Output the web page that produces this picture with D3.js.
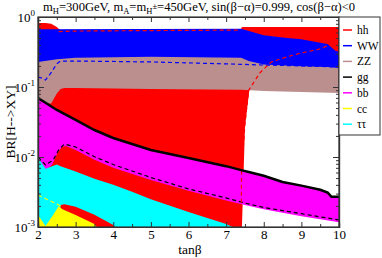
<!DOCTYPE html>
<html>
<head>
<meta charset="utf-8">
<script src="https://cdn.jsdelivr.net/npm/d3@7"></script>
<style>
  body { margin: 0; background: #fff; }
  text { font-family: "Liberation Serif", "Times New Roman", serif; }
</style>
</head>
<body>
<div id="chart"></div>
<script>
// channels, legend order
var channels = ["hh", "WW", "ZZ", "gg", "bb", "cc", "ττ"];
var colors   = ["#ff0000", "#0000ff", "#bc8f8f", "#000000", "#ff00ff", "#ffff00", "#00ffff"];

var xTicks = [2, 3, 4, 5, 6, 7, 8, 9, 10];
var yTicks = [1e-3, 1e-2, 1e-1, 1];
var yExps  = ["-3", "-2", "-1", "0"];

// band edges, [tanβ, BR]
var hhMax = [[2,0.82],[2.2,0.82],[2.35,0.8],[2.5,0.72],[2.6,0.64],[7.38,0.64],[7.42,0.72],[10,0.72]];
var hhMin = [[2,5e-5],[7.41,5e-5],[7.42,0.001],[7.5,0.026],[7.61,0.085],[7.7,0.15],[10,0.25]];

var zzMax = [[2,0.3],[10,0.3]];
var zzMin = [[2,0.061],[2.2,0.058],[2.35,0.058],[2.5,0.081],[2.6,0.094],[2.7,0.097],[3,0.097],[5,0.094],[7.4,0.091],[8,0.088],[10,0.082]];

var wwMax = [[2,0.67],[7.4,0.68],[8,0.55],[8.5,0.51],[9,0.48],[9.5,0.43],[9.7,0.41],[9.9,0.33],[10,0.32]];
var wwMin = [[2,0.228],[2.5,0.25],[3,0.262],[5,0.27],[7.4,0.262],[7.6,0.235],[8,0.21],[9,0.198],[9.7,0.193],[10,0.187]];

var ggLine = [[2,0.0697],[2.2,0.0595],[2.5,0.047],[3,0.0338],[3.5,0.0243],[4,0.0187],[5,0.0126],[6,0.0097],[7,0.0074],[7.4,0.0065],[7.6,0.0061],[8,0.0054],[8.5,0.0044],[9,0.0039],[9.5,0.0034],[9.7,0.0031],[9.8,0.0027],[10,0.0027]];

var bbMin = [[2,0.0091],[2.2,0.0065],[2.37,0.0077],[2.53,0.0118],[2.64,0.0139],[2.74,0.0144],[3,0.0126],[3.5,0.0091],[4,0.007],[5,0.0047],[6,0.0033],[7,0.0024],[7.5,0.00206],[8,0.0018],[9,0.00143],[10,0.00117]];

var ttMax = [[2,0.0098],[2.2,0.0068],[2.5,0.0078],[2.6,0.0074],[3,0.0062],[3.5,0.0049],[4,0.004],[4.5,0.0032],[5,0.0025],[6,0.00164],[7,0.0011],[7.4,0.00088],[7.6,0.0007]];
var ttMin = [[2,5e-4],[2.55,5e-4],[2.6,0.00206],[2.7,0.00212],[3,0.00195],[3.5,0.0015],[4,0.00107],[4.2,0.0008]];

var ccMax = [[2,0.00148],[2.2,0.00103],[2.4,0.00148],[2.55,0.00198],[2.65,0.0018],[3,0.00148],[3.5,0.0011],[3.7,0.0008]];
var ccMin = [[2,2e-4],[10,2e-4]];

// central values (dashed)
var hhMidLow  = [[2.55,0.62],[3,0.63],[5,0.64],[7.38,0.65]];
var hhMidHigh = [[7.4,0.0014],[7.41,0.006],[7.5,0.03],[7.6,0.09],[7.9,0.16],[8.2,0.228],[8.6,0.268],[9,0.306],[9.5,0.35],[9.75,0.4],[9.9,0.47]];
var wwMid = [[2,0.139],[2.1,0.134],[2.2,0.126],[2.35,0.16],[2.5,0.215],[2.6,0.235],[3,0.235],[5,0.228],[7,0.214],[8,0.206],[9,0.2],[10,0.193]];
var bbMid = [[2,0.01],[2.2,0.0077],[2.4,0.009],[2.55,0.0126],[2.7,0.0153],[3,0.0139],[3.5,0.0101],[4,0.0078],[5,0.0051],[6,0.0035],[7,0.0026],[7.5,0.0022],[8,0.0019],[9,0.00155],[10,0.00126]];
var ccMid = [[2,0.00287],[2.55,0.00206],[2.6,0.002]];

var W = 382, H = 258;
var pL = 38, pR = 339, pT = 17, pB = 227;

var svg = d3.select("#chart").append("svg")
    .attr("width", W).attr("height", H);

var x = d3.scaleLinear().domain([2, 10]).range([pL, pR]);
var y = d3.scaleLog().domain([1e-3, 1]).range([pB, pT]);

svg.append("clipPath").attr("id", "plotclip")
  .append("rect").attr("x", pL).attr("y", pT)
    .attr("width", pR - pL).attr("height", pB - pT);

var plot = svg.append("g").attr("clip-path", "url(#plotclip)");

var line = d3.line().x(function(d) { return x(d[0]); }).y(function(d) { return y(d[1]); });

function band(hi, lo, col) {
  var pts = hi.concat(lo.slice().reverse());
  plot.append("path").attr("d", line(pts) + "Z").attr("fill", col).attr("stroke", "none");
}

band(hhMax, hhMin, colors[0]);
band(zzMax, zzMin, colors[2]);
band(wwMax, wwMin, colors[1]);
band(ggLine, bbMin, colors[4]);
band(ttMax, ttMin, colors[6]);
band(ccMax, ccMin, colors[5]);

function dashed(data, col, w) {
  plot.append("path").attr("d", line(data)).attr("fill", "none")
    .attr("stroke", col).attr("stroke-width", w || 1.2).attr("stroke-dasharray", "4,3");
}
dashed(wwMid, colors[1]);
dashed(bbMid, "#000");
dashed(ccMid, colors[5]);
dashed(hhMidLow, colors[0]);
dashed(hhMidHigh, colors[0]);

plot.append("path").attr("d", line(ggLine)).attr("fill", "none")
  .attr("stroke", "#000").attr("stroke-width", 2.5);

// axes
var axCol = "#333";
var minorX = d3.range(2.5, 10, 1);
svg.append("g").attr("transform", "translate(0," + pB + ")")
  .call(d3.axisBottom(x).tickValues(xTicks).tickSize(-5).tickPadding(3).tickFormat(d3.format("d")));
svg.append("g").attr("transform", "translate(0," + pB + ")")
  .call(d3.axisBottom(x).tickValues(minorX).tickSize(-3).tickFormat(""));
svg.append("g").attr("transform", "translate(0," + pT + ")")
  .call(d3.axisTop(x).tickValues(xTicks).tickSize(-5).tickFormat(""));
svg.append("g").attr("transform", "translate(0," + pT + ")")
  .call(d3.axisTop(x).tickValues(minorX).tickSize(-3).tickFormat(""));

var minorY = [];
[1e-3, 1e-2, 1e-1].forEach(function(b) { for (var k = 2; k < 10; k++) minorY.push(b * k); });

svg.append("g").attr("transform", "translate(" + pL + ",0)")
  .call(d3.axisLeft(y).tickValues(yTicks).tickSize(-6).tickFormat(""));
svg.append("g").attr("transform", "translate(" + pL + ",0)")
  .call(d3.axisLeft(y).tickValues(minorY).tickSize(-3).tickFormat(""));
svg.append("g").attr("transform", "translate(" + pR + ",0)")
  .call(d3.axisRight(y).tickValues(yTicks).tickSize(-6).tickFormat(""));
svg.append("g").attr("transform", "translate(" + pR + ",0)")
  .call(d3.axisRight(y).tickValues(minorY).tickSize(-3).tickFormat(""));

svg.selectAll(".domain").attr("stroke", axCol).attr("stroke-width", 1.2);
svg.selectAll(".tick line").attr("stroke", axCol);
svg.selectAll(".tick text").attr("font-family", "Liberation Serif").attr("font-size", 13).attr("fill", "#000");

// y tick labels with superscripts
yTicks.forEach(function(v, i) {
  var t = svg.append("text").attr("x", pL - 3).attr("y", y(v) + 5)
    .attr("text-anchor", "end").attr("font-size", 13);
  t.append("tspan").text("10");
  t.append("tspan").attr("dy", -6).attr("font-size", 9).text(yExps[i]);
});

// frame on top
svg.append("rect").attr("x", pL).attr("y", pT).attr("width", pR - pL).attr("height", pB - pT)
  .attr("fill", "none").attr("stroke", axCol).attr("stroke-width", 1.2);

// title
var title = svg.append("text").attr("x", 43).attr("y", 11).attr("font-size", 12.6);
title.append("tspan").text("m");
title.append("tspan").attr("dy", 3).attr("font-size", 8.5).text("H");
title.append("tspan").attr("dy", -3).text("=300GeV, m");
title.append("tspan").attr("dy", 3).attr("font-size", 8.5).text("A");
title.append("tspan").attr("dy", -3).text("=m");
title.append("tspan").attr("dy", 3).attr("font-size", 8.5).text("H");
title.append("tspan").attr("dy", -5).attr("font-size", 8.5).text("±");
title.append("tspan").attr("dy", 2).text("=450GeV, sin(β−α)=0.999, cos(β−α)<0");

// axis labels
svg.append("text").attr("x", 190).attr("y", 254).attr("text-anchor", "middle")
  .attr("font-size", 13.5).text("tanβ");
svg.append("text").attr("transform", "translate(15,122) rotate(-90)").attr("text-anchor", "middle")
  .attr("font-size", 13.5).text("BR[H-->XY]");

// legend
var lg = svg.append("g");
lg.append("rect").attr("x", pR).attr("y", pT).attr("width", 41).attr("height", 118)
  .attr("fill", "#fff").attr("stroke", "#333").attr("stroke-width", 1);
channels.forEach(function(c, i) {
  var yy = pT + 13 + i * 15.7;
  lg.append("line").attr("x1", pR + 4).attr("x2", pR + 13).attr("y1", yy).attr("y2", yy)
    .attr("stroke", colors[i]).attr("stroke-width", 1.5);
  lg.append("text").attr("x", pR + 18).attr("y", yy + 4).attr("font-size", 11.5).text(c);
});
</script>
</body>
</html>
